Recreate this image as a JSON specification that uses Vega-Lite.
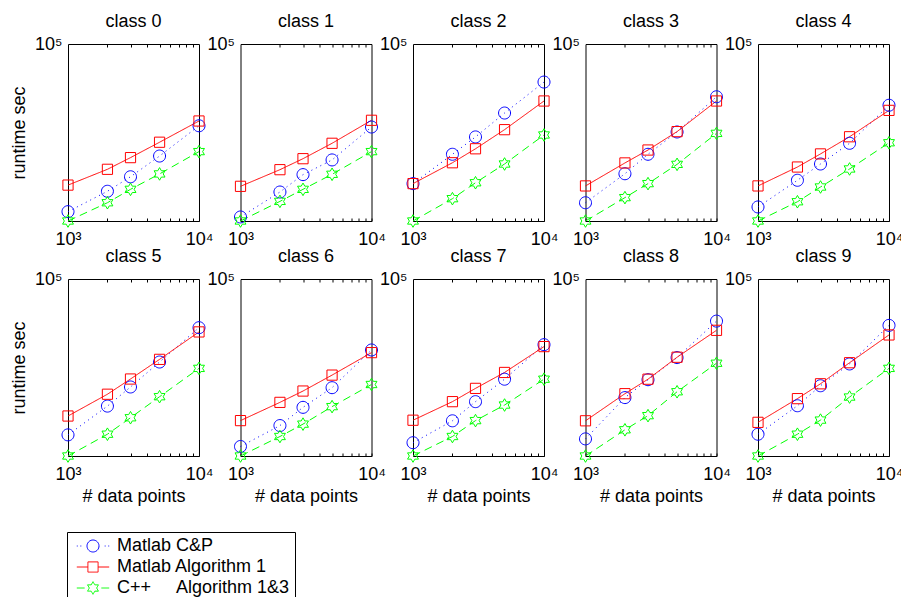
{
"$schema":"https://vega.github.io/schema/vega-lite/v6.json",
"background":"white",
"padding":{"left":10,"top":12,"right":0,"bottom":0},
"datasets":{"d":[
{"c":0,"s":"Matlab C&P","n":1000,"t":144},{"c":0,"s":"Matlab C&P","n":2000,"t":319},{"c":0,"s":"Matlab C&P","n":3000,"t":562},{"c":0,"s":"Matlab C&P","n":5000,"t":1262},{"c":0,"s":"Matlab C&P","n":10000,"t":4111},
{"c":0,"s":"Matlab Algorithm 1","n":1000,"t":406},{"c":0,"s":"Matlab Algorithm 1","n":2000,"t":752},{"c":0,"s":"Matlab Algorithm 1","n":3000,"t":1186},{"c":0,"s":"Matlab Algorithm 1","n":5000,"t":2163},{"c":0,"s":"Matlab Algorithm 1","n":10000,"t":4955},
{"c":0,"s":"C++ Algorithm 1&3","n":1000,"t":100},{"c":0,"s":"C++ Algorithm 1&3","n":2000,"t":204},{"c":0,"s":"C++ Algorithm 1&3","n":3000,"t":344},{"c":0,"s":"C++ Algorithm 1&3","n":5000,"t":628},{"c":0,"s":"C++ Algorithm 1&3","n":10000,"t":1500},
{"c":1,"s":"Matlab C&P","n":1000,"t":117},{"c":1,"s":"Matlab C&P","n":2000,"t":310},{"c":1,"s":"Matlab C&P","n":3000,"t":611},{"c":1,"s":"Matlab C&P","n":5000,"t":1084},{"c":1,"s":"Matlab C&P","n":10000,"t":3917},
{"c":1,"s":"Matlab Algorithm 1","n":1000,"t":387},{"c":1,"s":"Matlab Algorithm 1","n":2000,"t":741},{"c":1,"s":"Matlab Algorithm 1","n":3000,"t":1138},{"c":1,"s":"Matlab Algorithm 1","n":5000,"t":2075},{"c":1,"s":"Matlab Algorithm 1","n":10000,"t":5093},
{"c":1,"s":"C++ Algorithm 1&3","n":1000,"t":100},{"c":1,"s":"C++ Algorithm 1&3","n":2000,"t":215},{"c":1,"s":"C++ Algorithm 1&3","n":3000,"t":344},{"c":1,"s":"C++ Algorithm 1&3","n":5000,"t":619},{"c":1,"s":"C++ Algorithm 1&3","n":10000,"t":1500},
{"c":2,"s":"Matlab C&P","n":1000,"t":430},{"c":2,"s":"Matlab C&P","n":2000,"t":1352},{"c":2,"s":"Matlab C&P","n":3000,"t":2661},{"c":2,"s":"Matlab C&P","n":5000,"t":6761},{"c":2,"s":"Matlab C&P","n":10000,"t":22650},
{"c":2,"s":"Matlab Algorithm 1","n":1000,"t":430},{"c":2,"s":"Matlab Algorithm 1","n":2000,"t":971},{"c":2,"s":"Matlab Algorithm 1","n":3000,"t":1675},{"c":2,"s":"Matlab Algorithm 1","n":5000,"t":3532},{"c":2,"s":"Matlab Algorithm 1","n":10000,"t":10810},
{"c":2,"s":"C++ Algorithm 1&3","n":1000,"t":100},{"c":2,"s":"C++ Algorithm 1&3","n":2000,"t":239},{"c":2,"s":"C++ Algorithm 1&3","n":3000,"t":445},{"c":2,"s":"C++ Algorithm 1&3","n":5000,"t":925},{"c":2,"s":"C++ Algorithm 1&3","n":10000,"t":2871},
{"c":3,"s":"Matlab C&P","n":1000,"t":204},{"c":3,"s":"Matlab C&P","n":2000,"t":632},{"c":3,"s":"Matlab C&P","n":3000,"t":1352},{"c":3,"s":"Matlab C&P","n":5000,"t":3228},{"c":3,"s":"Matlab C&P","n":10000,"t":12760},
{"c":3,"s":"Matlab Algorithm 1","n":1000,"t":393},{"c":3,"s":"Matlab Algorithm 1","n":2000,"t":964},{"c":3,"s":"Matlab Algorithm 1","n":3000,"t":1596},{"c":3,"s":"Matlab Algorithm 1","n":5000,"t":3273},{"c":3,"s":"Matlab Algorithm 1","n":10000,"t":10810},
{"c":3,"s":"C++ Algorithm 1&3","n":1000,"t":100},{"c":3,"s":"C++ Algorithm 1&3","n":2000,"t":249},{"c":3,"s":"C++ Algorithm 1&3","n":3000,"t":430},{"c":3,"s":"C++ Algorithm 1&3","n":5000,"t":912},{"c":3,"s":"C++ Algorithm 1&3","n":10000,"t":3055},
{"c":4,"s":"Matlab C&P","n":1000,"t":173},{"c":4,"s":"Matlab C&P","n":2000,"t":490},{"c":4,"s":"Matlab C&P","n":3000,"t":925},{"c":4,"s":"Matlab C&P","n":5000,"t":2075},{"c":4,"s":"Matlab C&P","n":10000,"t":9162},
{"c":4,"s":"Matlab Algorithm 1","n":1000,"t":393},{"c":4,"s":"Matlab Algorithm 1","n":2000,"t":822},{"c":4,"s":"Matlab Algorithm 1","n":3000,"t":1371},{"c":4,"s":"Matlab Algorithm 1","n":5000,"t":2679},{"c":4,"s":"Matlab Algorithm 1","n":10000,"t":7499},
{"c":4,"s":"C++ Algorithm 1&3","n":1000,"t":100},{"c":4,"s":"C++ Algorithm 1&3","n":2000,"t":212},{"c":4,"s":"C++ Algorithm 1&3","n":3000,"t":377},{"c":4,"s":"C++ Algorithm 1&3","n":5000,"t":762},{"c":4,"s":"C++ Algorithm 1&3","n":10000,"t":2118},
{"c":5,"s":"Matlab C&P","n":1000,"t":228},{"c":5,"s":"Matlab C&P","n":2000,"t":701},{"c":5,"s":"Matlab C&P","n":3000,"t":1479},{"c":5,"s":"Matlab C&P","n":5000,"t":3917},{"c":5,"s":"Matlab C&P","n":10000,"t":14960},
{"c":5,"s":"Matlab Algorithm 1","n":1000,"t":476},{"c":5,"s":"Matlab Algorithm 1","n":2000,"t":1114},{"c":5,"s":"Matlab Algorithm 1","n":3000,"t":2018},{"c":5,"s":"Matlab Algorithm 1","n":5000,"t":4345},{"c":5,"s":"Matlab Algorithm 1","n":10000,"t":12680},
{"c":5,"s":"C++ Algorithm 1&3","n":1000,"t":100},{"c":5,"s":"C++ Algorithm 1&3","n":2000,"t":234},{"c":5,"s":"C++ Algorithm 1&3","n":3000,"t":445},{"c":5,"s":"C++ Algorithm 1&3","n":5000,"t":1012},{"c":5,"s":"C++ Algorithm 1&3","n":10000,"t":3055},
{"c":6,"s":"Matlab C&P","n":1000,"t":145},{"c":6,"s":"Matlab C&P","n":2000,"t":328},{"c":6,"s":"Matlab C&P","n":3000,"t":668},{"c":6,"s":"Matlab C&P","n":5000,"t":1439},{"c":6,"s":"Matlab C&P","n":10000,"t":6266},
{"c":6,"s":"Matlab Algorithm 1","n":1000,"t":398},{"c":6,"s":"Matlab Algorithm 1","n":2000,"t":811},{"c":6,"s":"Matlab Algorithm 1","n":3000,"t":1262},{"c":6,"s":"Matlab Algorithm 1","n":5000,"t":2350},{"c":6,"s":"Matlab Algorithm 1","n":10000,"t":5649},
{"c":6,"s":"C++ Algorithm 1&3","n":1000,"t":100},{"c":6,"s":"C++ Algorithm 1&3","n":2000,"t":214},{"c":6,"s":"C++ Algorithm 1&3","n":3000,"t":347},{"c":6,"s":"C++ Algorithm 1&3","n":5000,"t":687},{"c":6,"s":"C++ Algorithm 1&3","n":10000,"t":1629},
{"c":7,"s":"Matlab C&P","n":1000,"t":168},{"c":7,"s":"Matlab C&P","n":2000,"t":395},{"c":7,"s":"Matlab C&P","n":3000,"t":834},{"c":7,"s":"Matlab C&P","n":5000,"t":2004},{"c":7,"s":"Matlab C&P","n":10000,"t":7709},
{"c":7,"s":"Matlab Algorithm 1","n":1000,"t":404},{"c":7,"s":"Matlab Algorithm 1","n":2000,"t":834},{"c":7,"s":"Matlab Algorithm 1","n":3000,"t":1400},{"c":7,"s":"Matlab Algorithm 1","n":5000,"t":2606},{"c":7,"s":"Matlab Algorithm 1","n":10000,"t":7145},
{"c":7,"s":"C++ Algorithm 1&3","n":1000,"t":100},{"c":7,"s":"C++ Algorithm 1&3","n":2000,"t":214},{"c":7,"s":"C++ Algorithm 1&3","n":3000,"t":398},{"c":7,"s":"C++ Algorithm 1&3","n":5000,"t":731},{"c":7,"s":"C++ Algorithm 1&3","n":10000,"t":2004},
{"c":8,"s":"Matlab C&P","n":1000,"t":195},{"c":8,"s":"Matlab C&P","n":2000,"t":977},{"c":8,"s":"Matlab C&P","n":3000,"t":1963},{"c":8,"s":"Matlab C&P","n":5000,"t":4656},{"c":8,"s":"Matlab C&P","n":10000,"t":19320},
{"c":8,"s":"Matlab Algorithm 1","n":1000,"t":395},{"c":8,"s":"Matlab Algorithm 1","n":2000,"t":1138},{"c":8,"s":"Matlab Algorithm 1","n":3000,"t":2004},{"c":8,"s":"Matlab Algorithm 1","n":5000,"t":4721},{"c":8,"s":"Matlab Algorithm 1","n":10000,"t":13490},
{"c":8,"s":"C++ Algorithm 1&3","n":1000,"t":100},{"c":8,"s":"C++ Algorithm 1&3","n":2000,"t":278},{"c":8,"s":"C++ Algorithm 1&3","n":3000,"t":483},{"c":8,"s":"C++ Algorithm 1&3","n":5000,"t":1227},{"c":8,"s":"C++ Algorithm 1&3","n":10000,"t":3733},
{"c":9,"s":"Matlab C&P","n":1000,"t":234},{"c":9,"s":"Matlab C&P","n":2000,"t":711},{"c":9,"s":"Matlab C&P","n":3000,"t":1552},{"c":9,"s":"Matlab C&P","n":5000,"t":3631},{"c":9,"s":"Matlab C&P","n":10000,"t":16370},
{"c":9,"s":"Matlab Algorithm 1","n":1000,"t":372},{"c":9,"s":"Matlab Algorithm 1","n":2000,"t":938},{"c":9,"s":"Matlab Algorithm 1","n":3000,"t":1675},{"c":9,"s":"Matlab Algorithm 1","n":5000,"t":3811},{"c":9,"s":"Matlab Algorithm 1","n":10000,"t":11270},
{"c":9,"s":"C++ Algorithm 1&3","n":1000,"t":100},{"c":9,"s":"C++ Algorithm 1&3","n":2000,"t":234},{"c":9,"s":"C++ Algorithm 1&3","n":3000,"t":406},{"c":9,"s":"C++ Algorithm 1&3","n":5000,"t":998},{"c":9,"s":"C++ Algorithm 1&3","n":10000,"t":3055}
]},
"data":{"name":"d"},
"columns":5,
"bounds":"flush",
"spacing":{"row":58,"column":41.5},
"concat":[
{"title":"class 0","width":131,"height":177,"transform":[{"filter":"datum.c==0"}],"resolve":{"axis":{"x":"independent"}},"layer":[
 {"mark":{"type":"line","strokeWidth":1},"encoding":{
  "x":{"field":"n","type":"quantitative","scale":{"type":"log","domain":[1000,10000],"nice":false},"axis":{"orient":"bottom","values":[1000,2000,3000,4000,5000,6000,7000,8000,9000,10000],"labelExpr":"datum.value==1000?'10³':datum.value==10000?'10⁴':''","tickSize":-3,"labelPadding":12,"labelOverlap":false,"labelFlush":false,"labelBound":false,"title":null}},
  "y":{"field":"t","type":"quantitative","scale":{"type":"log","domain":[100,100000],"nice":false},"axis":{"values":[100000],"labelExpr":"'10⁵'","ticks":false,"labelPadding":6,"title":"runtime sec","titlePadding":6}},
  "color":{"field":"s","type":"nominal","scale":{"domain":["Matlab C&P","Matlab Algorithm 1","C++ Algorithm 1&3"],"range":["#0000ff","#ff0000","#00ff00"]},"legend":{"labelExpr":"datum.label=='C++ Algorithm 1&3'?'C++\u00a0\u00a0\u00a0\u00a0\u00a0Algorithm 1&3':datum.label","encode":{"symbols":{"update":{"strokeDash":{"value":[1,0]},"fill":{"value":"transparent"},"strokeWidth":{"value":1},"shape":{"signal":"datum.value=='Matlab C&P'?'M-2.7,0h0.15M-2.1,0h0.15M1.95,0h0.15M2.55,0h0.15M1,0A1,1,0,1,1,-1,0A1,1,0,1,1,1,0Z':datum.value=='Matlab Algorithm 1'?'M-2.7,0H-0.85M0.85,0H2.7M-0.85,-0.85H0.85V0.85H-0.85Z':'M-2.7,0H-1.4M1.4,0H2.7M0,-1.05L0.303,-0.525L0.909,-0.525L0.606,0L0.909,0.525L0.303,0.525L0,1.05L-0.303,0.525L-0.909,0.525L-0.606,0L-0.909,-0.525L-0.303,-0.525Z'"}}}}}},
  "strokeDash":{"condition":[{"test":"datum.s=='Matlab C&P'","value":[1,4]},{"test":"datum.s=='C++ Algorithm 1&3'","value":[8,5]}],"value":[1,0]}}},
 {"mark":{"type":"point","filled":false,"size":144,"strokeWidth":1,"opacity":1},"encoding":{
  "x":{"field":"n","type":"quantitative","axis":{"orient":"top","values":[2000,3000,4000,5000,6000,7000,8000,9000],"labels":false,"tickSize":-3,"title":null}},
  "y":{"field":"t","type":"quantitative"},
  "color":{"field":"s","type":"nominal"},
  "shape":{"condition":[{"test":"datum.s=='Matlab C&P'","value":"M1,0A1,1,0,1,1,-1,0A1,1,0,1,1,1,0Z"},{"test":"datum.s=='Matlab Algorithm 1'","value":"M-0.85,-0.85H0.85V0.85H-0.85Z"}],"value":"M0,-1.05L0.303,-0.525L0.909,-0.525L0.606,0L0.909,0.525L0.303,0.525L0,1.05L-0.303,0.525L-0.909,0.525L-0.606,0L-0.909,-0.525L-0.303,-0.525Z"}}}]},
{"title":"class 1","width":131,"height":177,"transform":[{"filter":"datum.c==1"}],"resolve":{"axis":{"x":"independent"}},"layer":[
 {"mark":{"type":"line","strokeWidth":1},"encoding":{
  "x":{"field":"n","type":"quantitative","scale":{"type":"log","domain":[1000,10000],"nice":false},"axis":{"orient":"bottom","values":[1000,2000,3000,4000,5000,6000,7000,8000,9000,10000],"labelExpr":"datum.value==1000?'10³':datum.value==10000?'10⁴':''","tickSize":-3,"labelPadding":12,"labelOverlap":false,"labelFlush":false,"labelBound":false,"title":null}},
  "y":{"field":"t","type":"quantitative","scale":{"type":"log","domain":[100,100000],"nice":false},"axis":{"values":[100000],"labelExpr":"'10⁵'","ticks":false,"labelPadding":6,"title":null}},
  "color":{"field":"s","type":"nominal"},
  "strokeDash":{"condition":[{"test":"datum.s=='Matlab C&P'","value":[1,4]},{"test":"datum.s=='C++ Algorithm 1&3'","value":[8,5]}],"value":[1,0]}}},
 {"mark":{"type":"point","filled":false,"size":144,"strokeWidth":1,"opacity":1},"encoding":{
  "x":{"field":"n","type":"quantitative","axis":{"orient":"top","values":[2000,3000,4000,5000,6000,7000,8000,9000],"labels":false,"tickSize":-3,"title":null}},
  "y":{"field":"t","type":"quantitative"},
  "color":{"field":"s","type":"nominal"},
  "shape":{"condition":[{"test":"datum.s=='Matlab C&P'","value":"M1,0A1,1,0,1,1,-1,0A1,1,0,1,1,1,0Z"},{"test":"datum.s=='Matlab Algorithm 1'","value":"M-0.85,-0.85H0.85V0.85H-0.85Z"}],"value":"M0,-1.05L0.303,-0.525L0.909,-0.525L0.606,0L0.909,0.525L0.303,0.525L0,1.05L-0.303,0.525L-0.909,0.525L-0.606,0L-0.909,-0.525L-0.303,-0.525Z"}}}]},
{"title":"class 2","width":131,"height":177,"transform":[{"filter":"datum.c==2"}],"resolve":{"axis":{"x":"independent"}},"layer":[
 {"mark":{"type":"line","strokeWidth":1},"encoding":{
  "x":{"field":"n","type":"quantitative","scale":{"type":"log","domain":[1000,10000],"nice":false},"axis":{"orient":"bottom","values":[1000,2000,3000,4000,5000,6000,7000,8000,9000,10000],"labelExpr":"datum.value==1000?'10³':datum.value==10000?'10⁴':''","tickSize":-3,"labelPadding":12,"labelOverlap":false,"labelFlush":false,"labelBound":false,"title":null}},
  "y":{"field":"t","type":"quantitative","scale":{"type":"log","domain":[100,100000],"nice":false},"axis":{"values":[100000],"labelExpr":"'10⁵'","ticks":false,"labelPadding":6,"title":null}},
  "color":{"field":"s","type":"nominal"},
  "strokeDash":{"condition":[{"test":"datum.s=='Matlab C&P'","value":[1,4]},{"test":"datum.s=='C++ Algorithm 1&3'","value":[8,5]}],"value":[1,0]}}},
 {"mark":{"type":"point","filled":false,"size":144,"strokeWidth":1,"opacity":1},"encoding":{
  "x":{"field":"n","type":"quantitative","axis":{"orient":"top","values":[2000,3000,4000,5000,6000,7000,8000,9000],"labels":false,"tickSize":-3,"title":null}},
  "y":{"field":"t","type":"quantitative"},
  "color":{"field":"s","type":"nominal"},
  "shape":{"condition":[{"test":"datum.s=='Matlab C&P'","value":"M1,0A1,1,0,1,1,-1,0A1,1,0,1,1,1,0Z"},{"test":"datum.s=='Matlab Algorithm 1'","value":"M-0.85,-0.85H0.85V0.85H-0.85Z"}],"value":"M0,-1.05L0.303,-0.525L0.909,-0.525L0.606,0L0.909,0.525L0.303,0.525L0,1.05L-0.303,0.525L-0.909,0.525L-0.606,0L-0.909,-0.525L-0.303,-0.525Z"}}}]},
{"title":"class 3","width":131,"height":177,"transform":[{"filter":"datum.c==3"}],"resolve":{"axis":{"x":"independent"}},"layer":[
 {"mark":{"type":"line","strokeWidth":1},"encoding":{
  "x":{"field":"n","type":"quantitative","scale":{"type":"log","domain":[1000,10000],"nice":false},"axis":{"orient":"bottom","values":[1000,2000,3000,4000,5000,6000,7000,8000,9000,10000],"labelExpr":"datum.value==1000?'10³':datum.value==10000?'10⁴':''","tickSize":-3,"labelPadding":12,"labelOverlap":false,"labelFlush":false,"labelBound":false,"title":null}},
  "y":{"field":"t","type":"quantitative","scale":{"type":"log","domain":[100,100000],"nice":false},"axis":{"values":[100000],"labelExpr":"'10⁵'","ticks":false,"labelPadding":6,"title":null}},
  "color":{"field":"s","type":"nominal"},
  "strokeDash":{"condition":[{"test":"datum.s=='Matlab C&P'","value":[1,4]},{"test":"datum.s=='C++ Algorithm 1&3'","value":[8,5]}],"value":[1,0]}}},
 {"mark":{"type":"point","filled":false,"size":144,"strokeWidth":1,"opacity":1},"encoding":{
  "x":{"field":"n","type":"quantitative","axis":{"orient":"top","values":[2000,3000,4000,5000,6000,7000,8000,9000],"labels":false,"tickSize":-3,"title":null}},
  "y":{"field":"t","type":"quantitative"},
  "color":{"field":"s","type":"nominal"},
  "shape":{"condition":[{"test":"datum.s=='Matlab C&P'","value":"M1,0A1,1,0,1,1,-1,0A1,1,0,1,1,1,0Z"},{"test":"datum.s=='Matlab Algorithm 1'","value":"M-0.85,-0.85H0.85V0.85H-0.85Z"}],"value":"M0,-1.05L0.303,-0.525L0.909,-0.525L0.606,0L0.909,0.525L0.303,0.525L0,1.05L-0.303,0.525L-0.909,0.525L-0.606,0L-0.909,-0.525L-0.303,-0.525Z"}}}]},
{"title":"class 4","width":131,"height":177,"transform":[{"filter":"datum.c==4"}],"resolve":{"axis":{"x":"independent"}},"layer":[
 {"mark":{"type":"line","strokeWidth":1},"encoding":{
  "x":{"field":"n","type":"quantitative","scale":{"type":"log","domain":[1000,10000],"nice":false},"axis":{"orient":"bottom","values":[1000,2000,3000,4000,5000,6000,7000,8000,9000,10000],"labelExpr":"datum.value==1000?'10³':datum.value==10000?'10⁴':''","tickSize":-3,"labelPadding":12,"labelOverlap":false,"labelFlush":false,"labelBound":false,"title":null}},
  "y":{"field":"t","type":"quantitative","scale":{"type":"log","domain":[100,100000],"nice":false},"axis":{"values":[100000],"labelExpr":"'10⁵'","ticks":false,"labelPadding":6,"title":null}},
  "color":{"field":"s","type":"nominal"},
  "strokeDash":{"condition":[{"test":"datum.s=='Matlab C&P'","value":[1,4]},{"test":"datum.s=='C++ Algorithm 1&3'","value":[8,5]}],"value":[1,0]}}},
 {"mark":{"type":"point","filled":false,"size":144,"strokeWidth":1,"opacity":1},"encoding":{
  "x":{"field":"n","type":"quantitative","axis":{"orient":"top","values":[2000,3000,4000,5000,6000,7000,8000,9000],"labels":false,"tickSize":-3,"title":null}},
  "y":{"field":"t","type":"quantitative"},
  "color":{"field":"s","type":"nominal"},
  "shape":{"condition":[{"test":"datum.s=='Matlab C&P'","value":"M1,0A1,1,0,1,1,-1,0A1,1,0,1,1,1,0Z"},{"test":"datum.s=='Matlab Algorithm 1'","value":"M-0.85,-0.85H0.85V0.85H-0.85Z"}],"value":"M0,-1.05L0.303,-0.525L0.909,-0.525L0.606,0L0.909,0.525L0.303,0.525L0,1.05L-0.303,0.525L-0.909,0.525L-0.606,0L-0.909,-0.525L-0.303,-0.525Z"}}}]},
{"title":"class 5","width":131,"height":177,"transform":[{"filter":"datum.c==5"}],"resolve":{"axis":{"x":"independent"}},"layer":[
 {"mark":{"type":"line","strokeWidth":1},"encoding":{
  "x":{"field":"n","type":"quantitative","scale":{"type":"log","domain":[1000,10000],"nice":false},"axis":{"orient":"bottom","values":[1000,2000,3000,4000,5000,6000,7000,8000,9000,10000],"labelExpr":"datum.value==1000?'10³':datum.value==10000?'10⁴':''","tickSize":-3,"labelPadding":12,"labelOverlap":false,"labelFlush":false,"labelBound":false,"title":"# data points","titlePadding":4}},
  "y":{"field":"t","type":"quantitative","scale":{"type":"log","domain":[100,100000],"nice":false},"axis":{"values":[100000],"labelExpr":"'10⁵'","ticks":false,"labelPadding":6,"title":"runtime sec","titlePadding":6}},
  "color":{"field":"s","type":"nominal"},
  "strokeDash":{"condition":[{"test":"datum.s=='Matlab C&P'","value":[1,4]},{"test":"datum.s=='C++ Algorithm 1&3'","value":[8,5]}],"value":[1,0]}}},
 {"mark":{"type":"point","filled":false,"size":144,"strokeWidth":1,"opacity":1},"encoding":{
  "x":{"field":"n","type":"quantitative","axis":{"orient":"top","values":[2000,3000,4000,5000,6000,7000,8000,9000],"labels":false,"tickSize":-3,"title":null}},
  "y":{"field":"t","type":"quantitative"},
  "color":{"field":"s","type":"nominal"},
  "shape":{"condition":[{"test":"datum.s=='Matlab C&P'","value":"M1,0A1,1,0,1,1,-1,0A1,1,0,1,1,1,0Z"},{"test":"datum.s=='Matlab Algorithm 1'","value":"M-0.85,-0.85H0.85V0.85H-0.85Z"}],"value":"M0,-1.05L0.303,-0.525L0.909,-0.525L0.606,0L0.909,0.525L0.303,0.525L0,1.05L-0.303,0.525L-0.909,0.525L-0.606,0L-0.909,-0.525L-0.303,-0.525Z"}}}]},
{"title":"class 6","width":131,"height":177,"transform":[{"filter":"datum.c==6"}],"resolve":{"axis":{"x":"independent"}},"layer":[
 {"mark":{"type":"line","strokeWidth":1},"encoding":{
  "x":{"field":"n","type":"quantitative","scale":{"type":"log","domain":[1000,10000],"nice":false},"axis":{"orient":"bottom","values":[1000,2000,3000,4000,5000,6000,7000,8000,9000,10000],"labelExpr":"datum.value==1000?'10³':datum.value==10000?'10⁴':''","tickSize":-3,"labelPadding":12,"labelOverlap":false,"labelFlush":false,"labelBound":false,"title":"# data points","titlePadding":4}},
  "y":{"field":"t","type":"quantitative","scale":{"type":"log","domain":[100,100000],"nice":false},"axis":{"values":[100000],"labelExpr":"'10⁵'","ticks":false,"labelPadding":6,"title":null}},
  "color":{"field":"s","type":"nominal"},
  "strokeDash":{"condition":[{"test":"datum.s=='Matlab C&P'","value":[1,4]},{"test":"datum.s=='C++ Algorithm 1&3'","value":[8,5]}],"value":[1,0]}}},
 {"mark":{"type":"point","filled":false,"size":144,"strokeWidth":1,"opacity":1},"encoding":{
  "x":{"field":"n","type":"quantitative","axis":{"orient":"top","values":[2000,3000,4000,5000,6000,7000,8000,9000],"labels":false,"tickSize":-3,"title":null}},
  "y":{"field":"t","type":"quantitative"},
  "color":{"field":"s","type":"nominal"},
  "shape":{"condition":[{"test":"datum.s=='Matlab C&P'","value":"M1,0A1,1,0,1,1,-1,0A1,1,0,1,1,1,0Z"},{"test":"datum.s=='Matlab Algorithm 1'","value":"M-0.85,-0.85H0.85V0.85H-0.85Z"}],"value":"M0,-1.05L0.303,-0.525L0.909,-0.525L0.606,0L0.909,0.525L0.303,0.525L0,1.05L-0.303,0.525L-0.909,0.525L-0.606,0L-0.909,-0.525L-0.303,-0.525Z"}}}]},
{"title":"class 7","width":131,"height":177,"transform":[{"filter":"datum.c==7"}],"resolve":{"axis":{"x":"independent"}},"layer":[
 {"mark":{"type":"line","strokeWidth":1},"encoding":{
  "x":{"field":"n","type":"quantitative","scale":{"type":"log","domain":[1000,10000],"nice":false},"axis":{"orient":"bottom","values":[1000,2000,3000,4000,5000,6000,7000,8000,9000,10000],"labelExpr":"datum.value==1000?'10³':datum.value==10000?'10⁴':''","tickSize":-3,"labelPadding":12,"labelOverlap":false,"labelFlush":false,"labelBound":false,"title":"# data points","titlePadding":4}},
  "y":{"field":"t","type":"quantitative","scale":{"type":"log","domain":[100,100000],"nice":false},"axis":{"values":[100000],"labelExpr":"'10⁵'","ticks":false,"labelPadding":6,"title":null}},
  "color":{"field":"s","type":"nominal"},
  "strokeDash":{"condition":[{"test":"datum.s=='Matlab C&P'","value":[1,4]},{"test":"datum.s=='C++ Algorithm 1&3'","value":[8,5]}],"value":[1,0]}}},
 {"mark":{"type":"point","filled":false,"size":144,"strokeWidth":1,"opacity":1},"encoding":{
  "x":{"field":"n","type":"quantitative","axis":{"orient":"top","values":[2000,3000,4000,5000,6000,7000,8000,9000],"labels":false,"tickSize":-3,"title":null}},
  "y":{"field":"t","type":"quantitative"},
  "color":{"field":"s","type":"nominal"},
  "shape":{"condition":[{"test":"datum.s=='Matlab C&P'","value":"M1,0A1,1,0,1,1,-1,0A1,1,0,1,1,1,0Z"},{"test":"datum.s=='Matlab Algorithm 1'","value":"M-0.85,-0.85H0.85V0.85H-0.85Z"}],"value":"M0,-1.05L0.303,-0.525L0.909,-0.525L0.606,0L0.909,0.525L0.303,0.525L0,1.05L-0.303,0.525L-0.909,0.525L-0.606,0L-0.909,-0.525L-0.303,-0.525Z"}}}]},
{"title":"class 8","width":131,"height":177,"transform":[{"filter":"datum.c==8"}],"resolve":{"axis":{"x":"independent"}},"layer":[
 {"mark":{"type":"line","strokeWidth":1},"encoding":{
  "x":{"field":"n","type":"quantitative","scale":{"type":"log","domain":[1000,10000],"nice":false},"axis":{"orient":"bottom","values":[1000,2000,3000,4000,5000,6000,7000,8000,9000,10000],"labelExpr":"datum.value==1000?'10³':datum.value==10000?'10⁴':''","tickSize":-3,"labelPadding":12,"labelOverlap":false,"labelFlush":false,"labelBound":false,"title":"# data points","titlePadding":4}},
  "y":{"field":"t","type":"quantitative","scale":{"type":"log","domain":[100,100000],"nice":false},"axis":{"values":[100000],"labelExpr":"'10⁵'","ticks":false,"labelPadding":6,"title":null}},
  "color":{"field":"s","type":"nominal"},
  "strokeDash":{"condition":[{"test":"datum.s=='Matlab C&P'","value":[1,4]},{"test":"datum.s=='C++ Algorithm 1&3'","value":[8,5]}],"value":[1,0]}}},
 {"mark":{"type":"point","filled":false,"size":144,"strokeWidth":1,"opacity":1},"encoding":{
  "x":{"field":"n","type":"quantitative","axis":{"orient":"top","values":[2000,3000,4000,5000,6000,7000,8000,9000],"labels":false,"tickSize":-3,"title":null}},
  "y":{"field":"t","type":"quantitative"},
  "color":{"field":"s","type":"nominal"},
  "shape":{"condition":[{"test":"datum.s=='Matlab C&P'","value":"M1,0A1,1,0,1,1,-1,0A1,1,0,1,1,1,0Z"},{"test":"datum.s=='Matlab Algorithm 1'","value":"M-0.85,-0.85H0.85V0.85H-0.85Z"}],"value":"M0,-1.05L0.303,-0.525L0.909,-0.525L0.606,0L0.909,0.525L0.303,0.525L0,1.05L-0.303,0.525L-0.909,0.525L-0.606,0L-0.909,-0.525L-0.303,-0.525Z"}}}]},
{"title":"class 9","width":131,"height":177,"transform":[{"filter":"datum.c==9"}],"resolve":{"axis":{"x":"independent"}},"layer":[
 {"mark":{"type":"line","strokeWidth":1},"encoding":{
  "x":{"field":"n","type":"quantitative","scale":{"type":"log","domain":[1000,10000],"nice":false},"axis":{"orient":"bottom","values":[1000,2000,3000,4000,5000,6000,7000,8000,9000,10000],"labelExpr":"datum.value==1000?'10³':datum.value==10000?'10⁴':''","tickSize":-3,"labelPadding":12,"labelOverlap":false,"labelFlush":false,"labelBound":false,"title":"# data points","titlePadding":4}},
  "y":{"field":"t","type":"quantitative","scale":{"type":"log","domain":[100,100000],"nice":false},"axis":{"values":[100000],"labelExpr":"'10⁵'","ticks":false,"labelPadding":6,"title":null}},
  "color":{"field":"s","type":"nominal"},
  "strokeDash":{"condition":[{"test":"datum.s=='Matlab C&P'","value":[1,4]},{"test":"datum.s=='C++ Algorithm 1&3'","value":[8,5]}],"value":[1,0]}}},
 {"mark":{"type":"point","filled":false,"size":144,"strokeWidth":1,"opacity":1},"encoding":{
  "x":{"field":"n","type":"quantitative","axis":{"orient":"top","values":[2000,3000,4000,5000,6000,7000,8000,9000],"labels":false,"tickSize":-3,"title":null}},
  "y":{"field":"t","type":"quantitative"},
  "color":{"field":"s","type":"nominal"},
  "shape":{"condition":[{"test":"datum.s=='Matlab C&P'","value":"M1,0A1,1,0,1,1,-1,0A1,1,0,1,1,1,0Z"},{"test":"datum.s=='Matlab Algorithm 1'","value":"M-0.85,-0.85H0.85V0.85H-0.85Z"}],"value":"M0,-1.05L0.303,-0.525L0.909,-0.525L0.606,0L0.909,0.525L0.303,0.525L0,1.05L-0.303,0.525L-0.909,0.525L-0.606,0L-0.909,-0.525L-0.303,-0.525Z"}}}]}
],
"config":{
 "font":"Liberation Sans",
 "view":{"stroke":"#000","strokeWidth":1},
 "axis":{"domain":false,"grid":false,"labelFont":"Liberation Sans","labelFontSize":18,"labelColor":"#000","tickColor":"#000","tickWidth":1,"titleFont":"Liberation Sans","titleFontSize":18,"titleFontWeight":"normal","titleColor":"#000"},
 "legend":{"title":null,"orient":"none","legendX":-1,"legendY":488,"direction":"vertical","strokeColor":"#000","fillColor":"#fff","padding":5,"symbolSize":144,"symbolStrokeWidth":1,"symbolOffset":12,"labelOffset":15,"labelFontSize":18,"labelColor":"#000","labelFont":"Liberation Sans","rowPadding":3,"labelLimit":400},
 "title":{"font":"Liberation Sans","fontSize":18,"fontWeight":"normal","color":"#000","frame":"group","anchor":"middle","offset":4,"baseline":"alphabetic"}
}
}
